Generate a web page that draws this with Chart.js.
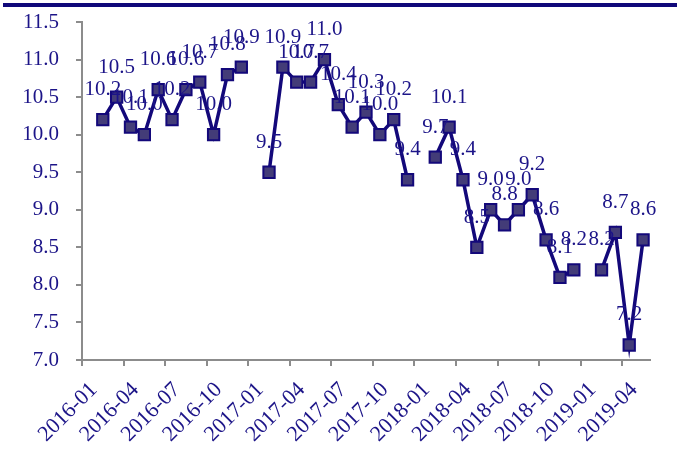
<!DOCTYPE html>
<html lang="en">
<head>
    <meta charset="UTF-8">
    <title>Monthly index 2016-2019</title>
    <script src="https://cdn.jsdelivr.net/npm/chart.js"></script>
    <style>
        html, body { margin: 0; padding: 0; background: #fff; }
        #wrap { position: relative; width: 678px; height: 463px; }
        #topbar { position: absolute; left: 3px; right: 1px; top: 3px; height: 4px; background: #10087a; }
        canvas { display: block; }
    </style>
</head>
<body>
    <div id="wrap">
        <canvas id="chart" width="678" height="463"></canvas>
        <div id="topbar"></div>
    </div>

    <script>
        // months 2016-01 .. 2019-05 (null = no release that month)
        const months = [
            "2016-01","2016-02","2016-03","2016-04","2016-05","2016-06","2016-07","2016-08","2016-09","2016-10","2016-11","2016-12",
            "2017-01","2017-02","2017-03","2017-04","2017-05","2017-06","2017-07","2017-08","2017-09","2017-10","2017-11","2017-12",
            "2018-01","2018-02","2018-03","2018-04","2018-05","2018-06","2018-07","2018-08","2018-09","2018-10","2018-11","2018-12",
            "2019-01","2019-02","2019-03","2019-04","2019-05"
        ];
        const values = [
            null, 10.2, 10.5, 10.1, 10.0, 10.6, 10.2, 10.6, 10.7, 10.0, 10.8, 10.9,
            null, 9.5, 10.9, 10.7, 10.7, 11.0, 10.4, 10.1, 10.3, 10.0, 10.2, 9.4,
            null, 9.7, 10.1, 9.4, 8.5, 9.0, 8.8, 9.0, 9.2, 8.6, 8.1, 8.2,
            null, 8.2, 8.7, 7.2, 8.6
        ];
        const yMin = 7.0, yMax = 11.5, yStep = 0.5;

        const navy = "#13087a";
        const textColor = "#1c1488";
        const axisGrey = "#8c8c8c";
        const family = "'Liberation Serif', 'Times New Roman', serif";
        const font = { family: family, size: 21 };
        const xFont = { family: family, size: 22 };

        // value labels above every point
        const pointLabels = {
            id: "pointLabels",
            afterDatasetsDraw(chart) {
                const ctx = chart.ctx;
                const meta = chart.getDatasetMeta(0);
                ctx.save();
                ctx.font = font.size + "px " + font.family;
                ctx.fillStyle = textColor;
                ctx.textAlign = "center";
                ctx.textBaseline = "middle";
                meta.data.forEach((pt, i) => {
                    const v = values[i];
                    if (v === null) return;
                    ctx.fillText(v.toFixed(1), pt.x, pt.y - 30);
                });
                ctx.restore();
            }
        };

        new Chart(document.getElementById("chart"), {
            type: "line",
            data: {
                labels: months,
                datasets: [{
                    data: values,
                    borderColor: navy,
                    borderWidth: 3.5,
                    pointStyle: "rect",
                    pointRadius: 8,
                    pointBackgroundColor: "#433c78",
                    pointBorderColor: navy,
                    pointBorderWidth: 2,
                    spanGaps: false,
                    tension: 0
                }]
            },
            options: {
                responsive: false,
                animation: false,
                layout: { autoPadding: false, padding: { top: 22, right: 28, left: 0, bottom: 0 } },
                plugins: { legend: { display: false }, tooltip: { enabled: false } },
                scales: {
                    x: {
                        offset: true,
                        grid: {
                            offset: true,
                            drawOnChartArea: false,
                            tickLength: 6,
                            lineWidth: 2,
                            color: (c) => (c.index % 3 === 0 ? axisGrey : "rgba(0,0,0,0)")
                        },
                        border: { color: axisGrey, width: 2 },
                        ticks: {
                            autoSkip: false,
                            minRotation: 45,
                            maxRotation: 45,
                            padding: 11,
                            labelOffset: 5,
                            color: textColor,
                            font: xFont,
                            callback: (v, i) => (i % 3 === 0 ? months[i] : "")
                        },
                        afterFit: (s) => { s.height = 103; s.paddingLeft = 0; s.paddingRight = 0; }
                    },
                    y: {
                        min: yMin,
                        max: yMax,
                        grid: { drawOnChartArea: false, tickLength: 6, lineWidth: 2, color: axisGrey },
                        border: { color: axisGrey, width: 2 },
                        ticks: {
                            stepSize: yStep,
                            padding: 17,
                            color: textColor,
                            font: font,
                            callback: (v) => Number(v).toFixed(1)
                        },
                        afterFit: (s) => { s.width = 82; s.paddingTop = 0; s.paddingBottom = 0; }
                    }
                }
            },
            plugins: [pointLabels]
        });
    </script>
</body>
</html>
